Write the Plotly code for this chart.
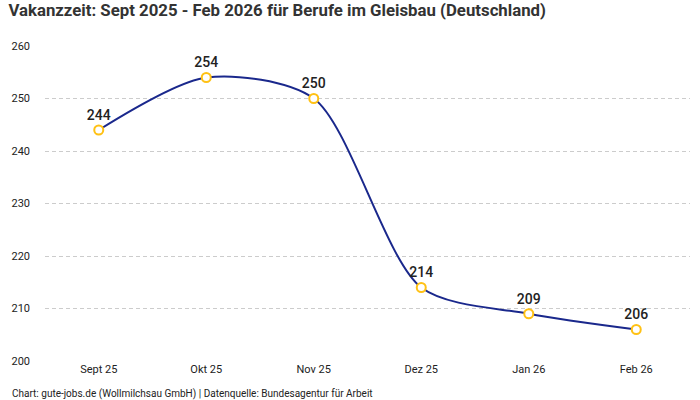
import plotly.graph_objects as go

months = ['Sept 25', 'Okt 25', 'Nov 25', 'Dez 25', 'Jan 26', 'Feb 26']
vacancy_days = [244, 254, 250, 214, 209, 206]

LINE_BLUE = 'rgb(26,40,140)'
MARKER_YELLOW = 'rgb(255,193,20)'
TEXT = '#222222'

fig = go.Figure()
fig.add_trace(go.Scatter(
    x=months,
    y=vacancy_days,
    mode='lines+markers+text',
    line=dict(color=LINE_BLUE, width=2, shape='spline', smoothing=0.8),
    marker=dict(size=9, color='white', line=dict(color=MARKER_YELLOW, width=2)),
    text=[str(v) for v in vacancy_days],
    textposition='top center',
    textfont=dict(size=14, color=TEXT, family='Roboto', weight=500),
    cliponaxis=False,
    hoverinfo='x+y',
))

fig.update_layout(
    width=700,
    height=400,
    margin=dict(l=45, r=10, t=46, b=39),
    paper_bgcolor='white',
    plot_bgcolor='white',
    showlegend=False,
    font=dict(family='Roboto', size=11, color=TEXT),
    title=dict(
        text='<b>Vakanzzeit: Sept 2025 - Feb 2026 für Berufe im Gleisbau (Deutschland)</b>',
        x=0.012, xanchor='left', y=0.975, yanchor='middle',
        font=dict(size=16.8, color='#333333', family='Roboto'),
    ),
    xaxis=dict(
        type='category',
        range=[-0.5, 5.5],
        showgrid=False,
        showline=False,
        zeroline=False,
        ticks='',
        tickfont=dict(size=11, color=TEXT),
    ),
    yaxis=dict(
        range=[200, 260],
        tickvals=[200, 210, 220, 230, 240, 250, 260],
        showgrid=True,
        gridcolor='#cccccc',
        griddash='4px,3px',
        gridwidth=1,
        zeroline=False,
        showline=False,
        ticks='',
        ticklabelstandoff=14,
        tickfont=dict(size=11, color=TEXT),
    ),
)

fig.add_annotation(
    text='Chart: gute-jobs.de (Wollmilchsau GmbH) | Datenquelle: Bundesagentur für Arbeit',
    xref='paper', yref='paper', x=-0.055, y=-0.105,
    xanchor='left', yanchor='middle', showarrow=False,
    font=dict(size=10, color=TEXT, family='Roboto'),
)

fig.write_html('out.html', config={'displayModeBar': False},
               post_script="document.body.style.margin='0';")
